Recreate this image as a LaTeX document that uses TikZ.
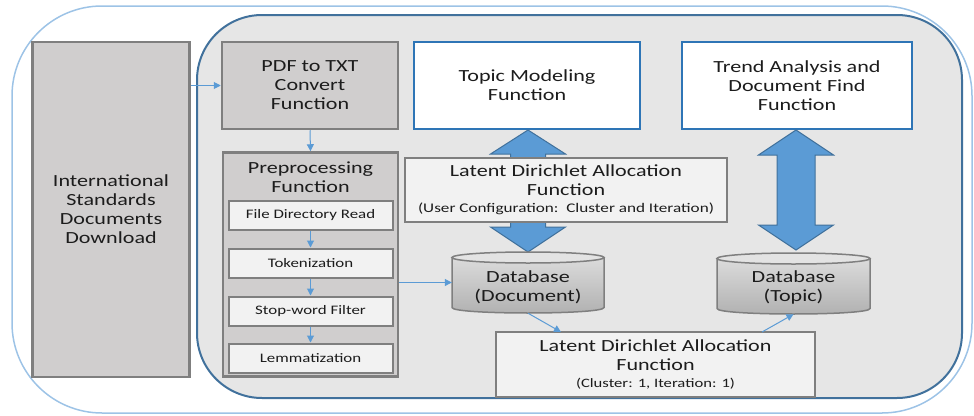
\documentclass[tikz,border=0pt]{standalone}
\usepackage{fontspec}
\setmainfont{Carlito}[FakeStretch=1.3]
\usetikzlibrary{arrows.meta,calc}
\definecolor{lblue}{HTML}{9DC3E6}
\definecolor{dblue}{HTML}{41719C}
\definecolor{mblue}{HTML}{5B9BD5}
\definecolor{bblue}{HTML}{2E75B6}
\definecolor{gfill}{HTML}{D0CECE}
\definecolor{gline}{HTML}{7F7F7F}
\definecolor{lfill}{HTML}{F2F2F2}
\definecolor{bgfill}{HTML}{E6E6E6}
\definecolor{txt}{HTML}{1C1C1C}
\newcommand\fsbig{\fontsize{17}{19}\selectfont}
\newcommand\fssubbox{\fontsize{13}{15}\selectfont}
\newcommand\fsnote{\fontsize{13.2}{15}\selectfont}
\newcommand\fstiny{\fontsize{12.8}{14}\selectfont}
\begin{document}
\begin{tikzpicture}[x=1pt,y=-1pt,
  graybox/.style={draw=gline, fill=gfill, line width=2.5pt, text=txt, align=center, font=\fsbig, inner sep=0pt},
  subbox/.style={draw=gline, fill=lfill, line width=2pt, text=txt, align=center, font=\fssubbox, inner sep=0pt, minimum width=164, minimum height=29},
  ldabox/.style={draw=gline, fill=lfill, line width=2pt, text=txt, align=center, font=\fsbig, inner sep=0pt},
  bluebox/.style={draw=bblue, fill=white, line width=2.5pt, text=txt, align=center, font=\fsbig, inner sep=0pt},
  plaintext/.style={text=txt, align=center, font=\fsbig, inner sep=0pt},
  thinarrow/.style={draw=mblue, line width=1pt, -{Triangle[length=7pt,width=7pt]}},
  bigarrow/.style={fill=mblue, draw=dblue, line width=1pt},
  cylbody/.style={top color=gray!28, bottom color=gray!62, draw=gline, line width=1.5pt},
  cyltop/.style={fill=gray!22, draw=gline, line width=1.5pt}]
\useasboundingbox (0,0) rectangle (974,415);

% frames
\draw[lblue, line width=1.5pt, rounded corners=90pt] (12,6) rectangle (972,413);
\draw[dblue, fill=bgfill, line width=2pt, rounded corners=65pt] (197,15) rectangle (962,398);

% left part
\node[graybox, minimum width=157, minimum height=335] (intl) at (111,209.5)
  {International\\Standards\\Documents\\Download};
\node[graybox, minimum width=176, minimum height=87] (pdf) at (310,85.5)
  {PDF to TXT\\Convert\\Function};
\node[graybox, minimum width=175, minimum height=224] (preproc) at (310.5,264.5) {};
\node[plaintext] (pretitle) at (310.5,177) {Preprocessing\\Function};
\node[subbox] (fdr) at (310.5,215.5) {File Directory Read};
\node[subbox] (tok) at (310.5,263) {Tokenization};
\node[subbox] (stop) at (310.5,311) {Stop-word Filter};
\node[subbox] (lem) at (310.5,358) {Lemmatization};

% top boxes
\node[bluebox, minimum width=226, minimum height=87] (topic) at (527,85.5)
  {Topic Modeling\\Function};
\node[bluebox, minimum width=230, minimum height=87] (trend) at (797,85.5)
  {Trend Analysis and\\Document Find\\Function};

% big double arrows
\draw[bigarrow] (528,130) -- (565.5,154) -- (545.5,154) -- (545.5,227) -- (565.5,227)
  -- (528,252) -- (490.5,227) -- (510.5,227) -- (510.5,154) -- (490.5,154) -- cycle;
\draw[bigarrow] (796,130) -- (833.5,155) -- (815,155) -- (815,225) -- (833.5,225)
  -- (796,250) -- (758.5,225) -- (777,225) -- (777,155) -- (758.5,155) -- cycle;

% LDA boxes
\node[ldabox, minimum width=322, minimum height=64] (lda1) at (566,190)
  {Latent Dirichlet Allocation\\Function\\[-2pt]{\fsnote (User Configuration:\ \ Cluster and Iteration)}};
\node[ldabox, minimum width=319, minimum height=65] (lda2) at (655.5,364.5)
  {Latent Dirichlet Allocation\\Function\\[-2pt]{\fstiny (Cluster: 1, Iteration: 1)}};

% databases
\path[cylbody] (452,257.5) -- (452,307.5) .. controls (452,314.83) and (604,314.83) .. (604,307.5) -- (604,257.5) -- cycle;
\draw[cyltop] (528,257.5) ellipse [x radius=76, y radius=5.5];
\node[inner sep=0pt, minimum width=152, minimum height=61] (dbdoc) at (528,282.5) {};
\node[plaintext] (dbdoctext) at (528,287) {Database\\(Document)};

\path[cylbody] (717,258.5) -- (717,308.5) .. controls (717,315.83) and (870,315.83) .. (870,308.5) -- (870,258.5) -- cycle;
\draw[cyltop] (793.5,258.5) ellipse [x radius=76.5, y radius=5.5];
\node[inner sep=0pt, minimum width=153, minimum height=61] (dbtopic) at (793.5,283.5) {};
\node[plaintext] (dbtopictext) at (793.5,287) {Database\\(Topic)};

% thin connectors
\coordinate (ldain) at (561,332);
\coordinate (ldaout) at (762,332);
\draw[thinarrow] (intl.east |- pdf.west) -- (pdf.west);
\draw[thinarrow] (pdf.south) -- (preproc.north);
\draw[thinarrow] (fdr.south) -- (tok.north);
\draw[thinarrow] (tok.south) -- (stop.north);
\draw[thinarrow] (stop.south) -- (lem.north);
\draw[thinarrow] (preproc.east |- dbdoc.west) -- (dbdoc.west);
\draw[thinarrow] (dbdoc.south) -- (ldain);
\draw[thinarrow] (ldaout) -- (dbtopic.south);
\end{tikzpicture}
\end{document}
